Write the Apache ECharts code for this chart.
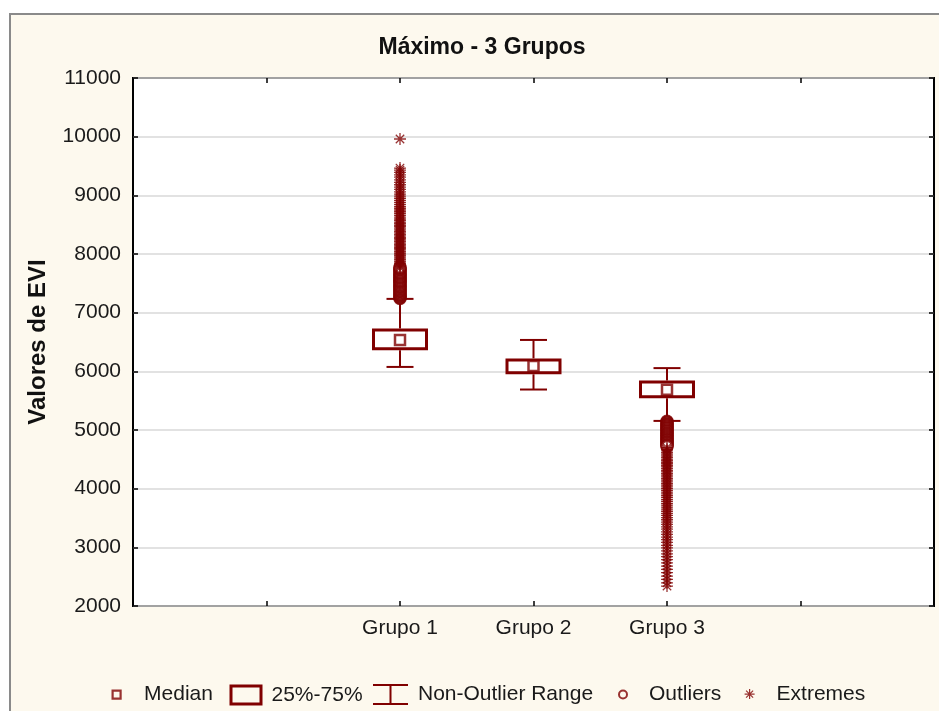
<!DOCTYPE html>
<html>
<head>
<meta charset="utf-8">
<script src="https://cdn.jsdelivr.net/npm/echarts@6/dist/echarts.min.js"></script>
<style>
  html, body { margin: 0; padding: 0; background: #ffffff; }
  #frame { position: absolute; left: 9px; top: 13px; width: 960px; height: 720px;
           background: #fdf9ee; border-left: 2px solid #8a8a8a; border-top: 2px solid #8a8a8a; box-sizing: border-box; }
  #chart { position: absolute; left: 0; top: 0; width: 939px; height: 711px; }
</style>
</head>
<body>
<div id="frame"></div>
<div id="chart"></div>
<script>
// ---- data ----
const categories = ['', '', 'Grupo 1', 'Grupo 2', 'Grupo 3', '', ''];
const groupIndex = [2, 3, 4];
const whiskerLow  = [6075, 5690, 5155];
const q1          = [6385, 5975, 5565];
const medians     = [6535, 6090, 5685];
const q3          = [6705, 6195, 5820];
const whiskerHigh = [7235, 6535, 6055];

const outliersG1 = [7240, 7255, 7270, 7290, 7305, 7320, 7340, 7360, 7375, 7390, 7410, 7430, 7445, 7460,
  7480, 7500, 7520, 7535, 7550, 7570, 7590, 7605, 7620, 7640, 7660, 7675, 7690, 7710, 7730, 7745, 7760, 7775];
const extremesG1 = [7765, 7790, 7810, 7835, 7860, 7880, 7905, 7930, 7950, 7975, 8000, 8020, 8045, 8070,
  8090, 8115, 8140, 8160, 8185, 8210, 8235, 8260, 8285, 8310, 8335, 8360, 8385, 8410, 8440, 8465, 8490,
  8520, 8545, 8575, 8600, 8630, 8660, 8690, 8720, 8750, 8780, 8810, 8845, 8880, 8915, 8950, 8985, 9020,
  9060, 9100, 9140, 9180, 9220, 9265, 9310, 9350, 9390, 9430, 9465, 9960];
const outliersG3 = [5150, 5135, 5120, 5100, 5085, 5070, 5050, 5035, 5020, 5000, 4985, 4970, 4950, 4935,
  4920, 4900, 4885, 4870, 4850, 4835, 4820, 4800, 4785, 4770, 4750, 4735, 4720];
const extremesG3 = [4700, 4670, 4645, 4615, 4590, 4560, 4535, 4505, 4480, 4450, 4425, 4395, 4370, 4340,
  4310, 4285, 4255, 4230, 4200, 4170, 4145, 4115, 4085, 4060, 4030, 4000, 3970, 3940, 3910, 3880, 3850,
  3815, 3785, 3750, 3720, 3685, 3650, 3615, 3580, 3545, 3505, 3470, 3430, 3390, 3350, 3310, 3265, 3220,
  3175, 3130, 3085, 3035, 2990, 2940, 2890, 2840, 2790, 2735, 2680, 2625, 2570, 2510, 2455, 2395, 2340];

const yMin = 2000, yMax = 11000, yStep = 1000;
const titleText = 'Máximo - 3 Grupos';
const yName = 'Valores de EVI';
const legendNames = ['Median', '25%-75%', 'Non-Outlier Range', 'Outliers', 'Extremes'];

// ---- build ----
const RED = '#800000';
const FONT = '"Liberation Sans", Arial, sans-serif';
const boxData = groupIndex.map((g, i) => [g, whiskerLow[i], q1[i], medians[i], q3[i], whiskerHigh[i]]);
const medianData = groupIndex.map((g, i) => [g, medians[i]]);
const outlierData = outliersG1.map(v => [groupIndex[0], v]).concat(outliersG3.map(v => [groupIndex[2], v]));
const extremeData = extremesG1.map(v => [groupIndex[0], v]).concat(extremesG3.map(v => [groupIndex[2], v]));

const asterisk = 'path://M5,0L5,10M0,5L10,5M1.5,1.5L8.5,8.5M8.5,1.5L1.5,8.5';

function boxRender(params, api) {
  const x = api.value(0);
  const pQ1 = api.coord([x, api.value(2)]);
  const pQ3 = api.coord([x, api.value(4)]);
  const half = 26.5;
  return {
    type: 'rect',
    shape: { x: pQ1[0] - half, y: pQ3[1], width: half * 2, height: pQ1[1] - pQ3[1] },
    style: { fill: 'rgba(0,0,0,0)', stroke: RED, lineWidth: 3 }
  };
}
function whiskerRender(params, api) {
  const x = api.value(0);
  const pMin = api.coord([x, api.value(1)]);
  const pQ1 = api.coord([x, api.value(2)]);
  const pQ3 = api.coord([x, api.value(4)]);
  const pMax = api.coord([x, api.value(5)]);
  const cap = 13.5;
  const st = { stroke: RED, lineWidth: 2 };
  return {
    type: 'group',
    children: [
      { type: 'line', shape: { x1: pMax[0], y1: pQ3[1] - 1.5, x2: pMax[0], y2: pMax[1] }, style: st },
      { type: 'line', shape: { x1: pMin[0], y1: pQ1[1] + 1.5, x2: pMin[0], y2: pMin[1] }, style: st },
      { type: 'line', shape: { x1: pMax[0] - cap, y1: pMax[1], x2: pMax[0] + cap, y2: pMax[1] }, style: st },
      { type: 'line', shape: { x1: pMin[0] - cap, y1: pMin[1], x2: pMin[0] + cap, y2: pMin[1] }, style: st }
    ]
  };
}

const legendTop = 683;
const legendText = { fontFamily: FONT, fontSize: 21, color: '#1a1a1a' };
function mkLegend(name, left, w, icon, lw) {
  return {
    left: left, top: legendTop, itemWidth: w, itemHeight: 21, itemGap: 0, padding: 0,
    selectedMode: false, symbolKeepAspect: true, textStyle: legendText,
    data: [{ name: name, icon: icon,
      itemStyle: { color: 'rgba(0,0,0,0)', borderColor: RED, borderWidth: lw } }]
  };
}

const chart = echarts.init(document.getElementById('chart'), null, { renderer: 'canvas' });
chart.setOption({
  backgroundColor: 'transparent',
  animation: false,
  title: {
    text: titleText, left: 477, top: 31, textAlign: 'center',
    textStyle: { fontFamily: FONT, fontSize: 23, fontWeight: 'bold', color: '#111' }
  },
  legend: [
    mkLegend(legendNames[0], 111, 27, 'path://M0,0M27,21M0.5,6.5L8.5,6.5L8.5,14.5L0.5,14.5Z', 2.2),
    mkLegend(legendNames[1], 228, 37, 'path://M0,0M37,21M1.5,1.5L31.5,1.5L31.5,19.5L1.5,19.5Z', 3),
    mkLegend(legendNames[2], 372, 40, 'path://M0,0M40,21M0,1L35,1M17.5,1L17.5,20M0,20L35,20', 2),
    mkLegend(legendNames[3], 618, 25, 'path://M0,0M25,21M8,10.5A4,4 0 1 0 0,10.5A4,4 0 1 0 8,10.5Z', 2),
    mkLegend(legendNames[4], 744, 27, 'path://M0,0M27,21M5,5.5L5,15.5M0,10.5L10,10.5M1.5,7L8.5,14M8.5,7L1.5,14', 1.2)
  ],
  grid: {
    left: 133, top: 78, right: 5, bottom: 105,
    show: true, backgroundColor: '#ffffff', borderColor: '#000', borderWidth: 2
  },
  xAxis: [{
    type: 'category', data: categories, boundaryGap: false,
    axisLine: { show: false },
    axisTick: { show: true, inside: true, length: 5, interval: 0, lineStyle: { color: '#000', width: 1.5 } },
    axisLabel: { interval: 0, margin: 12, fontFamily: FONT, fontSize: 21, color: '#1a1a1a' },
    splitLine: { show: false }
  }, {
    type: 'category', data: categories, boundaryGap: false, position: 'top',
    axisLine: { show: false },
    axisTick: { show: true, inside: true, length: 5, interval: 0, lineStyle: { color: '#000', width: 1.5 } },
    axisLabel: { show: false },
    splitLine: { show: false }
  }],
  yAxis: [{
    type: 'value', min: yMin, max: yMax, interval: yStep,
    name: yName, nameLocation: 'middle', nameGap: 83, nameRotate: 90,
    nameTextStyle: { fontFamily: FONT, fontSize: 24, fontWeight: 'bold', color: '#111' },
    axisLine: { show: false },
    axisTick: { show: true, inside: true, length: 5, lineStyle: { color: '#000', width: 1.5 } },
    axisLabel: { margin: 12, fontFamily: FONT, fontSize: 21, color: '#1a1a1a', formatter: v => String(v) },
    splitLine: { show: true, lineStyle: { color: '#d9d9d9', width: 1.5 } }
  }, {
    type: 'value', min: yMin, max: yMax, interval: yStep, position: 'right',
    axisLine: { show: false },
    axisTick: { show: true, inside: true, length: 5, lineStyle: { color: '#000', width: 1.5 } },
    axisLabel: { show: false },
    splitLine: { show: false }
  }],
  series: [
    { name: legendNames[1], type: 'custom', renderItem: boxRender, data: boxData,
      encode: { x: 0, y: [1, 2, 3, 4, 5] }, itemStyle: { color: RED }, z: 3 },
    { name: legendNames[2], type: 'custom', renderItem: whiskerRender, data: boxData,
      encode: { x: 0, y: [1, 2, 3, 4, 5] }, itemStyle: { color: RED }, z: 2 },
    { name: legendNames[0], type: 'scatter', data: medianData, symbol: 'rect', symbolSize: 10,
      itemStyle: { color: '#ffffff', borderColor: RED, borderWidth: 2.5 }, z: 4 },
    { name: legendNames[3], type: 'scatter', data: outlierData, symbol: 'circle', symbolSize: 11,
      itemStyle: { color: '#ffffff', borderColor: RED, borderWidth: 2.5 }, z: 5 },
    { name: legendNames[4], type: 'scatter', data: extremeData, symbol: asterisk, symbolSize: 12,
      symbolKeepAspect: true,
      itemStyle: { color: 'rgba(0,0,0,0)', borderColor: RED, borderWidth: 1.3 }, z: 5 }
  ]
});
</script>
</body>
</html>
